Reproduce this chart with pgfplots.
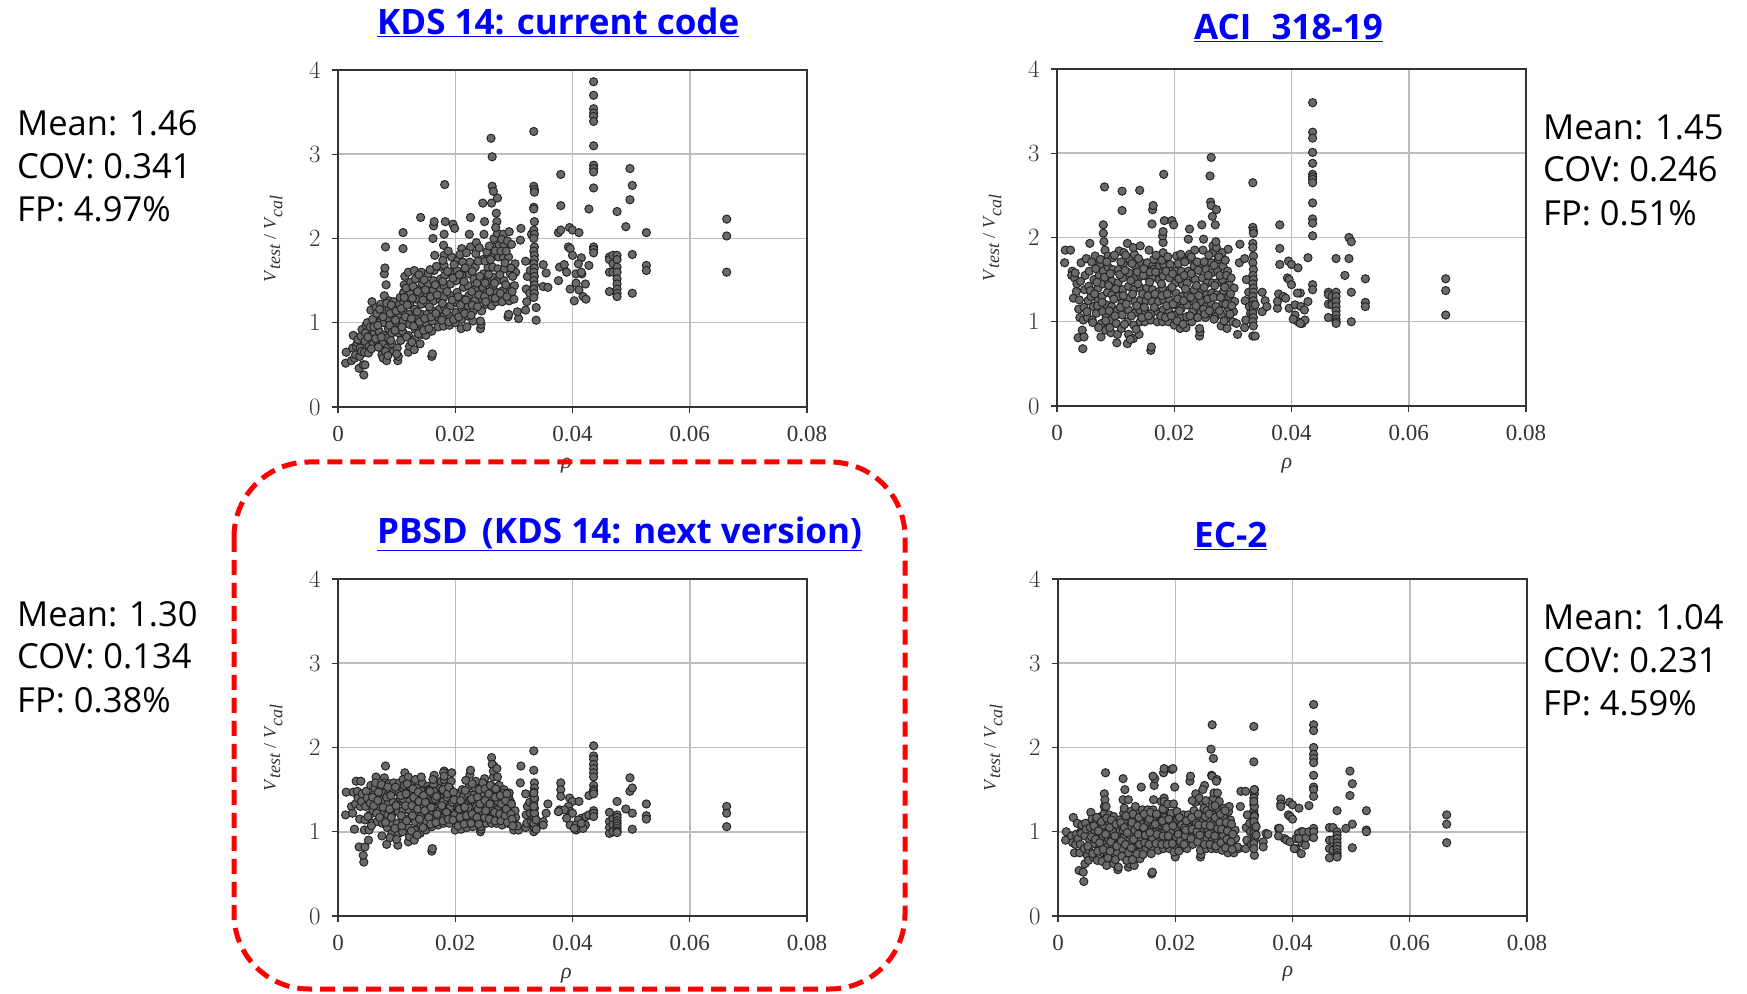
\documentclass[border=0pt]{standalone}
\usepackage{pgfplots}
\usepackage{pgfplotstable}
\usepackage{fontspec}
\pgfplotsset{compat=1.18}
\setmainfont{Liberation Serif}
\newfontfamily\osans{Open Sans}
\definecolor{dot}{HTML}{6A6A6A}
\definecolor{rim}{HTML}{262626}
\definecolor{grd}{HTML}{BDBDBD}
\definecolor{axl}{HTML}{333333}
\pgfplotstableread{
r a b c d
.0013 .52 1.70 1.20 .90
.0014 .65 1.85 1.47 1.00
.0023 .55 1.85 1.30 .95
.0026 .85 1.60 1.47 1.17
.0025 .70 1.55 1.22 .87
.0028 .58 1.28 1.03 .75
.0030 .62 1.52 1.33 .85
.0031 .72 1.58 1.60 .97
.0033 .76 1.36 1.48 1.10
.0034 .80 1.45 1.40 .92
.0036 .46 .81 .82 .54
.0037 .60 1.15 1.15 .75
.0038 .70 1.26 1.30 .85
.0039 .84 1.05 1.60 1.00
.0040 .66 1.48 1.36 .98
.0041 .92 1.70 1.45 1.08
.0044 .38 .68 .64 .41
.0043 .50 .90 .72 .52
.0046 .50 .82 .82 .62
.0045 .65 1.02 1.02 .80
.0046 .78 1.17 1.14 .95
.0047 .88 1.38 1.30 1.10
.0048 .97 1.55 1.48 1.03
.0050 1.00 1.75 1.40 .72
.0052 .64 1.05 .90 .66
.0053 .72 1.25 1.02 .78
.0054 .84 1.42 1.20 .90
.0055 .95 1.60 1.34 1.05
.0056 1.15 1.93 1.55 1.23
.0058 1.25 1.30 1.10 1.15
.0060 .75 1.02 1.25 .70
.0062 .88 1.18 1.45 .86
.0063 1.02 1.50 1.52 1.00
.0065 1.18 1.78 1.65 1.13
.0067 .78 1.10 1.12 .66
.0070 .90 1.25 1.30 .80
.0070 1.00 1.40 1.42 .92
.0072 1.10 1.55 1.50 1.03
.0073 1.22 1.68 1.38 1.18
.0075 .62 .82 .95 .65
.0076 .75 .98 1.10 .75
.0078 .85 1.12 1.22 .85
.0077 .58 1.30 1.35 .95
.0078 1.00 1.45 1.50 1.08
.0079 1.15 1.60 1.64 1.22
.0079 1.32 2.15 1.58 1.30
.0079 1.58 2.05 1.36 1.45
.0080 1.65 1.95 1.46 1.38
.0081 1.90 2.60 1.78 1.70
.0082 1.45 1.85 1.55 1.30
.0083 .55 .90 .85 .60
.0084 .70 1.05 1.05 .72
.0085 .82 1.20 1.20 .82
.0086 .93 1.35 1.34 .92
.0086 1.05 1.50 1.45 1.02
.0087 1.16 1.65 1.57 1.12
.0087 1.26 1.78 1.42 1.20
.0092 .75 .87 .98 .70
.0092 .88 1.02 1.10 .80
.0093 .98 1.18 1.22 .90
.0094 1.08 1.32 1.35 1.00
.0094 1.18 1.48 1.47 1.10
.0095 1.25 1.62 1.58 1.18
.0095 .66 1.76 1.28 .62
.0102 .55 .75 .84 .55
.0103 .60 .85 .98 .58
.0101 .70 .98 1.10 .75
.0103 .88 1.14 1.24 .85
.0104 1.00 1.30 1.36 .96
.0104 1.10 1.46 1.48 1.06
.0105 1.22 1.62 1.58 1.14
.0106 1.30 1.84 1.40 1.02
.0110 .90 .92 1.00 .80
.0111 1.02 1.08 1.12 .92
.0111 1.14 1.22 1.25 1.02
.0112 1.24 1.38 1.38 1.12
.0112 1.36 1.52 1.50 1.22
.0113 1.45 1.68 1.60 1.28
.0114 1.55 1.82 1.70 1.50
.0111 1.88 2.32 1.62 1.63
.0111 2.07 2.55 1.44 1.38
.0120 .65 .74 .88 .58
.0122 .72 .85 .94 .62
.0120 .85 1.00 1.05 .75
.0122 .98 1.14 1.16 .86
.0121 1.10 1.28 1.26 .97
.0122 1.22 1.42 1.36 1.06
.0123 1.34 1.58 1.46 1.16
.0124 1.48 1.74 1.56 1.24
.0120 1.60 1.93 1.65 1.38
.0130 .68 .80 .90 .60
.0131 .80 .96 1.02 .68
.0132 .92 1.10 1.12 .80
.0133 1.04 1.24 1.22 .92
.0131 1.16 1.38 1.32 1.02
.0133 1.28 1.52 1.42 1.12
.0134 1.40 1.66 1.52 1.22
.0132 1.52 1.80 1.62 1.30
.0130 1.62 1.88 1.28 .84
.0140 .75 .85 .98 .68
.0142 .86 1.00 1.08 .78
.0141 .98 1.14 1.18 .90
.0143 1.10 1.26 1.28 1.00
.0142 1.22 1.40 1.38 1.10
.0143 1.34 1.54 1.48 1.18
.0144 1.46 1.70 1.58 1.26
.0142 1.60 1.90 1.65 1.53
.0141 2.25 2.56 1.32 1.04
.0150 .85 1.00 1.02 .80
.0151 .98 1.12 1.12 .90
.0152 1.10 1.25 1.22 1.00
.0153 1.22 1.40 1.32 1.10
.0152 1.34 1.54 1.44 1.18
.0153 1.46 1.68 1.54 1.26
.0154 1.58 1.70 1.50 1.12
.0160 .60 .66 .77 .50
.0161 .63 .70 .80 .52
.0160 .90 1.02 1.06 .80
.0161 1.02 1.10 1.14 .92
.0162 1.14 1.24 1.24 1.02
.0163 1.26 1.38 1.34 1.14
.0162 1.38 1.52 1.44 1.26
.0163 1.50 1.66 1.56 1.38
.0164 1.62 1.62 1.67 1.55
.0165 1.80 1.74 1.28 1.63
.0162 2.00 2.16 1.62 1.66
.0163 2.15 2.33 1.38 1.08
.0164 2.20 2.38 1.48 1.18
.0171 .95 1.00 1.08 .78
.0172 1.06 1.12 1.16 .88
.0173 1.16 1.24 1.25 .98
.0174 1.28 1.36 1.34 1.08
.0174 1.40 1.50 1.44 1.18
.0175 1.52 1.66 1.52 1.12
.0176 1.66 1.58 1.60 1.36
.0180 .96 1.00 1.10 .80
.0181 1.08 1.14 1.18 .90
.0182 1.18 1.26 1.28 1.00
.0180 1.30 1.40 1.36 1.10
.0181 1.44 1.54 1.44 1.20
.0182 1.56 1.68 1.54 1.30
.0181 1.68 1.82 1.62 1.40
.0181 1.80 1.94 1.72 1.36
.0180 1.92 2.02 1.70 1.70
.0181 2.05 2.07 1.66 1.75
.0183 2.20 2.20 1.24 1.18
.0182 2.64 2.75 1.48 1.26
.0190 .97 1.00 1.10 .80
.0191 1.08 1.12 1.20 .90
.0192 1.20 1.26 1.30 1.00
.0193 1.32 1.38 1.40 1.10
.0192 1.46 1.52 1.50 1.20
.0193 1.60 1.68 1.60 1.22
.0194 1.78 1.60 1.70 1.74
.0196 2.17 2.20 1.45 1.75
.0200 1.00 .96 1.02 .70
.0201 1.12 1.08 1.12 .82
.0202 1.24 1.20 1.22 .94
.0203 1.36 1.34 1.32 1.04
.0202 1.50 1.46 1.42 1.14
.0203 1.62 1.60 1.40 1.24
.0204 1.74 1.78 1.45 1.15
.0199 2.12 2.15 1.20 1.53
.0210 .93 .92 1.03 .80
.0211 1.04 1.04 1.12 .90
.0212 1.16 1.16 1.22 1.00
.0213 1.28 1.30 1.32 1.10
.0214 1.42 1.44 1.42 1.20
.0212 1.56 1.60 1.50 1.06
.0213 1.72 1.75 1.28 .98
.0211 1.88 1.80 1.18 1.08
.0220 .95 .93 1.05 .80
.0221 1.08 1.06 1.14 .90
.0222 1.20 1.20 1.24 1.00
.0223 1.32 1.32 1.34 1.10
.0222 1.44 1.46 1.44 1.20
.0224 1.58 1.60 1.54 1.12
.0225 1.72 1.74 1.68 1.60
.0226 1.90 1.80 1.73 1.66
.0224 2.05 1.98 1.28 1.05
.0226 2.25 2.10 1.38 1.15
.0230 1.02 1.00 1.06 .85
.0231 1.14 1.12 1.14 .95
.0233 1.26 1.24 1.24 1.05
.0234 1.40 1.38 1.34 1.15
.0232 1.52 1.52 1.44 1.25
.0234 1.66 1.66 1.52 1.35
.0235 1.82 1.85 1.60 1.45
.0236 1.95 1.50 1.30 1.10
.0243 .93 .83 1.00 .70
.0244 .98 .88 1.03 .73
.0243 1.02 .92 1.06 .78
.0245 1.14 1.10 1.12 .88
.0246 1.28 1.24 1.24 1.00
.0247 1.42 1.38 1.36 1.12
.0248 1.58 1.52 1.46 1.24
.0247 1.75 1.66 1.56 1.35
.0249 2.05 1.85 1.60 1.28
.0253 1.22 1.05 1.10 .80
.0254 1.36 1.18 1.20 .92
.0255 1.50 1.32 1.30 1.02
.0256 1.66 1.46 1.40 1.14
.0254 1.84 1.62 1.50 1.25
.0250 2.20 1.98 1.63 1.55
.0247 2.42 2.15 1.58 1.50
.0262 1.20 1.10 1.10 .80
.0263 1.30 1.22 1.18 .90
.0264 1.42 1.34 1.26 1.00
.0265 1.54 1.46 1.34 1.10
.0264 1.66 1.58 1.44 1.20
.0263 1.78 1.70 1.54 1.30
.0265 1.90 1.82 1.65 1.40
.0266 2.00 1.90 1.78 1.46
.0262 2.42 2.42 1.88 1.67
.0263 2.62 2.38 1.80 1.66
.0265 2.56 2.25 1.72 1.87
.0261 3.19 2.73 1.42 1.98
.0263 2.97 2.95 1.52 2.27
.0270 1.25 1.06 1.10 .80
.0271 1.36 1.18 1.18 .90
.0272 1.50 1.32 1.26 1.02
.0273 1.64 1.46 1.36 1.14
.0274 1.78 1.60 1.46 1.26
.0275 1.92 1.74 1.55 1.36
.0272 2.06 1.88 1.65 1.46
.0271 2.20 1.95 1.75 1.62
.0270 2.30 2.15 1.48 1.60
.0272 2.48 2.33 1.20 1.04
.0280 1.25 .95 1.08 .78
.0281 1.38 1.08 1.16 .88
.0283 1.50 1.22 1.24 .98
.0284 1.64 1.36 1.32 1.08
.0282 1.78 1.50 1.40 1.18
.0283 1.92 1.66 1.50 1.28
.0282 2.05 1.82 1.46 .96
.0290 1.07 .92 1.10 .75
.0291 1.10 1.04 1.16 .84
.0292 1.26 1.16 1.24 .94
.0293 1.42 1.30 1.30 1.04
.0294 1.58 1.44 1.36 1.14
.0291 1.78 1.60 1.42 1.24
.0292 2.08 1.86 1.46 1.30
.0300 1.28 1.00 1.02 .75
.0301 1.44 1.12 1.10 .82
.0303 1.60 1.24 1.17 .92
.0302 1.70 1.40 1.25 1.02
.0308 1.05 .85 1.02 .80
.0306 1.13 .98 1.07 .82
.0311 1.98 1.70 1.58 1.30
.0312 2.12 1.92 1.78 1.48
.0320 1.15 .93 1.05 .80
.0322 1.25 1.02 1.10 .90
.0321 1.40 1.25 1.20 1.05
.0323 1.55 1.50 1.30 1.20
.0320 1.73 1.75 1.45 1.48
.0327 1.35 1.35 1.35 1.10
.0328 1.62 1.18 1.22 1.00
.0330 2.05 1.10 1.12 .85
.0334 3.27 2.65 1.96 2.25
.0334 2.62 2.12 1.73 1.83
.0335 2.58 2.08 1.58 1.50
.0335 2.55 2.05 1.52 1.45
.0334 2.37 1.93 1.47 1.32
.0334 2.35 1.88 1.42 1.25
.0335 2.20 1.78 1.38 1.20
.0334 2.10 1.70 1.33 1.15
.0335 2.05 1.62 1.28 1.10
.0334 2.00 1.55 1.24 1.06
.0335 1.90 1.50 1.20 1.02
.0334 1.85 1.45 1.16 .98
.0335 1.80 1.40 1.12 .94
.0335 1.75 1.35 1.08 .90
.0334 1.70 1.30 1.05 .86
.0335 1.65 1.25 1.03 .72
.0334 1.60 1.20 1.00 .80
.0335 1.55 1.15 1.22 1.30
.0334 1.50 1.10 1.30 1.40
.0335 1.45 1.05 1.40 1.50
.0334 1.40 1.00 1.46 1.36
.0335 1.35 .95 1.04 1.18
.0334 1.30 .83 1.10 1.12
.0338 1.18 1.20 1.14 1.06
.0338 1.03 .83 1.03 .96
.0350 1.69 1.35 1.12 .88
.0355 1.59 1.25 1.22 .98
.0350 1.43 1.12 1.08 .82
.0358 1.42 1.18 1.33 .97
.0376 2.07 1.16 1.24 1.04
.0380 2.76 2.15 1.58 1.39
.0380 2.39 1.87 1.50 1.33
.0380 2.10 1.68 1.42 1.30
.0395 2.13 1.72 1.40 1.35
.0400 2.10 1.68 1.36 1.32
.0411 2.07 1.64 1.36 1.28
.0393 1.90 1.52 1.30 1.20
.0396 1.88 1.50 1.24 1.18
.0400 1.80 1.44 1.22 1.15
.0415 1.77 1.34 1.16 1.00
.0410 1.70 1.34 1.14 .98
.0378 1.66 1.33 1.26 1.04
.0386 1.69 1.30 1.26 .92
.0390 1.60 1.28 1.16 .90
.0376 1.50 1.24 1.24 .95
.0396 1.40 1.16 1.08 .88
.0406 1.58 1.20 1.08 .80
.0416 1.58 1.18 1.06 .87
.0406 1.47 1.08 1.02 .92
.0422 1.46 1.14 1.08 .84
.0411 1.39 1.00 1.04 .92
.0418 1.31 .98 1.04 1.00
.0423 1.28 1.02 1.18 .93
.0403 1.26 1.03 1.04 .80
.0415 1.60 .98 1.10 .74
.0428 2.35 1.76 1.43 1.31
.0428 1.68 1.24 1.20 1.00
.0436 3.86 3.60 2.02 2.51
.0436 3.70 3.25 1.90 2.27
.0436 3.54 3.18 1.86 2.20
.0436 3.49 3.01 1.80 2.00
.0436 3.45 2.88 1.75 1.92
.0436 3.39 2.75 1.70 1.87
.0436 3.10 2.72 1.65 1.82
.0436 2.87 2.69 1.55 1.67
.0436 2.83 2.65 1.50 1.53
.0436 2.79 2.41 1.48 1.50
.0436 2.60 2.22 1.45 1.42
.0436 1.90 2.17 1.25 1.04
.0436 1.87 2.02 1.22 1.00
.0436 1.83 1.44 1.18 .93
.0436 nan 1.38 nan nan
.0463 1.78 1.35 1.23 1.05
.0463 1.60 1.21 1.12 .90
.0463 1.37 1.05 1.05 .80
.0463 1.75 1.32 .98 .69
.0469 1.80 1.30 1.15 1.05
.0469 1.70 1.22 1.08 .90
.0469 1.60 1.20 1.00 .78
.0476 2.32 1.75 1.36 1.25
.0476 1.80 1.35 1.20 1.00
.0476 1.75 1.30 1.17 .96
.0476 1.66 1.24 1.13 .92
.0476 1.60 1.18 1.10 .87
.0476 1.52 1.13 1.07 .83
.0476 1.46 1.08 1.04 .79
.0476 1.40 1.03 1.01 .75
.0476 1.35 1.00 1.00 .72
.0476 1.31 .98 .99 .70
.0491 2.14 1.55 1.27 1.04
.0498 2.83 2.00 1.64 1.72
.0498 2.46 1.75 1.48 1.43
.0502 2.63 1.95 1.52 1.57
.0502 1.81 1.35 1.22 1.09
.0502 1.35 1.00 1.03 .81
.0526 2.07 1.51 1.33 1.25
.0526 1.68 1.23 1.19 1.02
.0526 1.62 1.18 1.15 1.00
.0663 2.23 1.51 1.30 1.20
.0663 2.03 1.37 1.22 1.09
.0663 1.60 1.08 1.06 .87
.0051 .83 1.12 1.18 .83
.0057 .69 1.37 1.07 .94
.0059 1.04 1.71 1.41 .74
.0061 .95 .99 1.31 1.07
.0064 .81 1.33 1.58 .91
.0066 1.11 1.63 1.22 1.17
.0068 .97 1.47 1.37 .77
.0069 .71 1.19 1.47 1.01
.0071 1.16 .93 1.17 .87
.0074 .83 1.74 1.56 1.12
.0077 1.07 1.23 1.29 .79
.0081 .66 1.53 1.11 .97
.0083 1.23 1.01 1.41 1.16
.0085 .61 1.71 1.53 .69
.0088 .97 1.43 1.27 1.05
.0089 1.11 1.13 .93 .77
.0090 .79 .93 1.43 .88
.0091 1.21 1.57 1.17 1.14
.0097 .91 1.27 1.04 .95
.0098 1.03 1.79 1.53 .67
.0099 1.14 1.07 1.31 1.09
.0100 .63 1.39 .91 .83
.0107 .79 1.56 1.43 1.11
.0108 1.17 1.17 1.19 .89
.0109 .95 1.71 1.07 .71
.0113 1.30 1.31 1.55 1.05
.0115 1.07 .97 1.31 .85
.0116 1.41 1.61 1.45 1.19
.0117 .83 1.79 1.13 .66
.0118 1.21 1.21 1.57 .99
.0125 1.05 .79 1.01 .81
.0126 .77 1.49 1.31 1.11
.0127 1.29 1.07 1.19 .67
.0128 1.43 1.69 1.51 1.21
.0129 .96 1.33 1.41 .91
.0135 1.13 .91 .96 .74
.0136 1.37 1.19 1.27 1.07
.0137 .87 1.59 1.47 .97
.0138 1.57 1.45 1.36 1.17
.0139 1.01 1.75 1.15 .85
.0145 1.27 1.05 1.05 .73
.0146 .91 1.33 1.43 1.05
.0147 1.51 1.55 1.30 1.21
.0148 1.05 1.63 1.25 .87
.0149 1.39 1.17 1.35 .96
.0155 .93 1.31 1.17 .85
.0156 1.19 1.07 1.49 1.15
.0157 1.63 1.85 1.48 .99
.0158 1.31 1.47 1.09 1.23
.0159 1.07 1.59 1.29 .74
.0166 1.45 1.17 1.39 1.09
.0167 1.11 1.33 1.11 .86
.0168 1.67 1.59 1.42 1.21
.0169 1.33 1.79 1.21 .97
.0177 1.03 1.07 1.31 .85
.0178 1.23 1.45 1.49 1.13
.0179 1.49 1.73 1.13 1.27
.0179 1.74 1.31 1.50 .95
.0185 1.13 1.05 1.23 1.05
.0186 1.37 1.60 1.41 .85
.0187 1.61 1.19 1.45 1.33
.0188 1.85 1.33 1.15 .95
.0189 1.01 1.77 1.53 1.15
.0195 1.27 1.07 1.35 .86
.0196 1.53 1.41 1.14 1.07
.0197 1.04 1.57 1.47 1.33
.0198 1.69 1.21 1.38 .76
.0205 1.31 1.01 1.07 .97
.0206 1.07 1.27 1.27 .77
.0207 1.57 1.69 1.27 1.17
.0208 1.81 1.51 1.17 .87
.0209 1.21 1.13 1.37 .89
.0215 1.49 .97 1.09 .85
.0216 1.11 1.25 1.29 1.05
.0217 1.65 1.55 1.49 .95
.0218 1.27 1.71 1.61 1.02
.0219 1.83 1.39 1.19 1.13
.0227 1.09 1.07 1.10 .92
.0228 1.37 1.29 1.39 1.17
.0229 1.61 1.57 1.21 1.03
.0229 1.21 1.77 1.57 1.37
.0237 1.47 1.19 1.17 1.00
.0238 1.19 1.43 1.41 .88
.0239 1.73 1.71 1.27 1.21
.0240 1.33 1.05 1.09 1.08
.0241 1.89 1.61 1.50 1.40
.0242 1.55 1.31 1.33 .96
.0250 1.31 1.15 1.17 .85
.0251 1.47 1.41 1.37 1.08
.0251 1.73 1.71 1.51 1.18
.0252 1.25 1.09 1.25 1.37
.0257 1.57 1.27 1.45 .97
.0258 1.91 1.55 1.15 1.21
.0259 1.37 1.79 1.33 .85
.0260 1.75 1.13 1.55 1.07
.0267 1.47 1.29 1.23 .95
.0268 1.85 1.67 1.41 1.17
.0268 1.29 1.03 1.13 1.31
.0269 2.13 1.43 1.51 .83
.0276 1.57 1.77 1.21 1.11
.0277 1.35 1.13 1.43 1.21
.0278 1.85 1.55 1.13 .87
.0279 1.99 1.29 1.33 1.03
.0285 1.71 1.01 1.19 1.25
.0286 1.45 1.41 1.37 .81
.0287 1.85 1.73 1.27 1.11
.0288 1.31 1.21 1.45 .91
.0289 1.97 1.55 1.11 1.01
.0295 1.65 1.09 1.21 .88
.0296 1.93 1.33 1.33 1.09
.0297 1.37 1.52 1.15 .79
.0298 1.55 1.19 1.07 .97
}\mydata
\pgfplotsset{
  panel/.style={
    scale only axis, width=469pt, height=337pt,
    xmin=0, xmax=.08, ymin=0, ymax=4,
    xtick={0,.02,.04,.06,.08}, xticklabels={0,0.02,0.04,0.06,0.08},
    ytick={0,1,2,3,4}, scaled x ticks=false,
    grid=major, grid style={grd,line width=1.5pt},
    axis line style={axl,line width=1.9pt},
    tick style={axl,line width=1.2pt},
    tick align=outside, major tick length=6pt,
    axis on top=false,
    tick label style={text=axl,font=\fontsize{23}{23}\selectfont},
    xtick pos=bottom, ytick pos=left,
    xticklabel shift=10pt, yticklabel shift=8pt,
    xlabel={\textit{ρ}}, ylabel={\textit{V}$_{\textit{test}}$ / \textit{V}$_{\textit{cal}}$},
    xlabel style={text=axl,font=\fontsize{22}{22}\selectfont},
    ylabel style={text=axl,font=\fontsize{18}{18}\selectfont,at={(axis description cs:-.138,.5)},anchor=center},
  },
  dots/.style={only marks, mark=*, mark size=4.1pt,
    mark options={fill=dot,draw=rim,line width=1pt}},
}
\newcommand\stat[3]{\node[anchor=west,inner sep=0pt,font=\osans\fontsize{34.5}{34.5}\selectfont,text=black] at (#1,#2) {#3};}
\newcommand\ttl[3]{\node[anchor=west,inner sep=0pt,font=\osans\bfseries\fontsize{35}{35}\selectfont,text={rgb,255:red,0;green,0;blue,255}] at (#1,#2) {\underline{#3}};}
\begin{document}
\begin{tikzpicture}[x=1pt,y=1pt]
\path[use as bounding box] (0,0) rectangle (1747,993);
\begin{axis}[panel,at={(338pt,586pt)},anchor=south west,xlabel style={at={(axis description cs:.487,-.175)},anchor=center}]
\addplot[dots] table[x=r,y=a]{\mydata};
\end{axis}
\begin{axis}[panel,at={(1057pt,587pt)},anchor=south west,xlabel style={at={(axis description cs:.49,-.178)},anchor=center}]
\addplot[dots] table[x=r,y=b]{\mydata};
\end{axis}
\begin{axis}[panel,at={(338pt,77pt)},anchor=south west,xlabel style={at={(axis description cs:.487,-.178)},anchor=center}]
\addplot[dots] table[x=r,y=c]{\mydata};
\end{axis}
\begin{axis}[panel,at={(1058pt,77pt)},anchor=south west,xlabel style={at={(axis description cs:.49,-.17)},anchor=center}]
\addplot[dots] table[x=r,y=d]{\mydata};
\end{axis}
\draw[red,line width=5pt,dash pattern=on 15pt off 8pt,rounded corners=75pt] (234,531) rectangle (905,4);
\stat{17}{870}{Mean: 1.46}\stat{17}{827}{COV: 0.341}\stat{17}{784}{FP: 4.97\%}
\stat{1543}{866}{Mean: 1.45}\stat{1543}{824}{COV: 0.246}\stat{1543}{780}{FP: 0.51\%}
\stat{17}{379}{Mean: 1.30}\stat{17}{337}{COV: 0.134}\stat{17}{293}{FP: 0.38\%}
\stat{1543}{376}{Mean: 1.04}\stat{1543}{333}{COV: 0.231}\stat{1543}{290}{FP: 4.59\%}
\ttl{377}{971}{KDS 14: current code}
\ttl{1194}{965}{ACI\hspace{11pt} 318-19}
\ttl{377}{459}{PBSD\hspace{5pt} (KDS 14: next version)}
\ttl{1194}{457}{EC-2}
\end{tikzpicture}
\end{document}
